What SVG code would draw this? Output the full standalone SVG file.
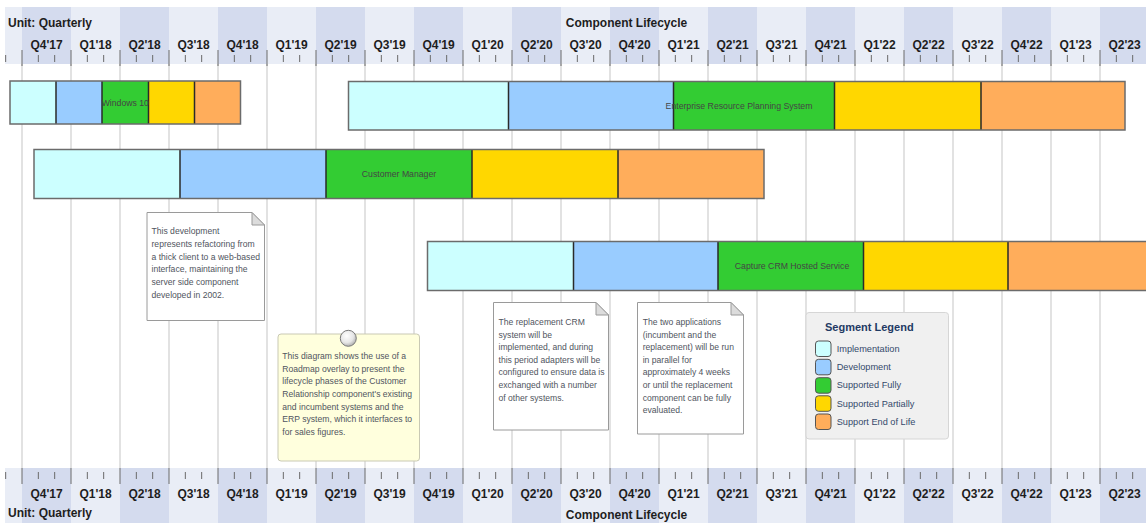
<svg xmlns="http://www.w3.org/2000/svg" xmlns:xlink="http://www.w3.org/1999/xlink" width="1146" height="523" viewBox="0 0 1146 523">
<style>
  .hdr { font-family: "Liberation Sans", Arial, sans-serif; font-weight: bold; font-size: 12px; fill: #1e1e1e; }
  .q { font-family: "Liberation Sans", Arial, sans-serif; font-weight: bold; font-size: 12px; fill: #1e1e1e; text-anchor: middle; }
  .lite { fill: #E9EDF6; }
  .dark { fill: #D4DBEE; }
  .grid { stroke: #D9D9D9; stroke-width: 1.5; fill: none; }
  .tick { stroke: #6a6a6a; stroke-width: 1; fill: none; }
  .seg { stroke: #2a2a2a; stroke-width: 1.5; }
  .outline { fill: none; stroke: #6b6b6b; stroke-width: 1.5; }
  .impl { fill: #CCFFFF; }
  .dev { fill: #99CCFF; }
  .full { fill: #33CC33; }
  .part { fill: #FFD700; }
  .eol { fill: #FFAD5B; }
  .blabel { font-family: "Liberation Sans", Arial, sans-serif; font-size: 8.7px; fill: #454545; text-anchor: middle; }
  .note { fill: #FFFFFF; stroke: #9a9a9a; stroke-width: 1; }
  .fold { fill: #DCDCDC; stroke: #9a9a9a; stroke-width: 1; }
  .ntext { font-family: "Liberation Sans", Arial, sans-serif; font-size: 8.6px; fill: #505560; }
  .lgtitle { font-family: "Liberation Sans", Arial, sans-serif; font-weight: bold; font-size: 11px; fill: #1F3A64; }
  .lgtext { font-family: "Liberation Sans", Arial, sans-serif; font-size: 9.2px; fill: #34496B; }
  .sw { stroke: #555; stroke-width: 1; }
</style>
<defs>
  <g id="band">
    <rect class="lite" x="5" y="0" width="1141" height="57"/>
    <rect class="dark" x="22" y="0" width="49" height="57"/>
    <rect class="dark" x="120" y="0" width="49" height="57"/>
    <rect class="dark" x="218" y="0" width="49" height="57"/>
    <rect class="dark" x="316" y="0" width="49" height="57"/>
    <rect class="dark" x="414" y="0" width="49" height="57"/>
    <rect class="dark" x="512" y="0" width="49" height="57"/>
    <rect class="dark" x="610" y="0" width="49" height="57"/>
    <rect class="dark" x="708" y="0" width="49" height="57"/>
    <rect class="dark" x="806" y="0" width="49" height="57"/>
    <rect class="dark" x="904" y="0" width="49" height="57"/>
    <rect class="dark" x="1002" y="0" width="49" height="57"/>
    <rect class="dark" x="1100" y="0" width="49" height="57"/>
  </g>
  <path id="minor" class="tick" d="M5.67 0v7M38.33 0v7M54.67 0v7M87.33 0v7M103.67 0v7M136.33 0v7M152.67 0v7M185.33 0v7M201.67 0v7M234.33 0v7M250.67 0v7M283.33 0v7M299.67 0v7M332.33 0v7M348.67 0v7M381.33 0v7M397.67 0v7M430.33 0v7M446.67 0v7M479.33 0v7M495.67 0v7M528.33 0v7M544.67 0v7M577.33 0v7M593.67 0v7M626.33 0v7M642.67 0v7M675.33 0v7M691.67 0v7M724.33 0v7M740.67 0v7M773.33 0v7M789.67 0v7M822.33 0v7M838.67 0v7M871.33 0v7M887.67 0v7M920.33 0v7M936.67 0v7M969.33 0v7M985.67 0v7M1018.33 0v7M1034.67 0v7M1067.33 0v7M1083.67 0v7M1116.33 0v7M1132.67 0v7"/>
  <path id="major" class="tick" d="M22 0v16M71 0v16M120 0v16M169 0v16M218 0v16M267 0v16M316 0v16M365 0v16M414 0v16M463 0v16M512 0v16M561 0v16M610 0v16M659 0v16M708 0v16M757 0v16M806 0v16M855 0v16M904 0v16M953 0v16M1002 0v16M1051 0v16M1100 0v16"/>
  <radialGradient id="knob" cx="0.4" cy="0.35" r="0.7">
    <stop offset="0" stop-color="#FFFFFF"/>
    <stop offset="0.6" stop-color="#E6E6E6"/>
    <stop offset="1" stop-color="#A8A8A8"/>
  </radialGradient>
</defs>

<rect x="0" y="0" width="1146" height="523" fill="#FFFFFF"/>

<!-- body grid -->
<g id="gridlines">
  <path class="grid" d="M22 64V468M71 64V468M120 64V468M169 64V468M218 64V468M267 64V468M316 64V468M365 64V468M414 64V468M463 64V468M512 64V468M561 64V468M610 64V468M659 64V468M708 64V468M757 64V468M806 64V468M855 64V468M904 64V468M953 64V468M1002 64V468M1051 64V468M1100 64V468"/>
</g>

<!-- top scale -->
<g id="top-scale">
  <use xlink:href="#band" transform="translate(0,7)"/>
  <use xlink:href="#minor" transform="translate(0,55)"/>
  <use xlink:href="#major" transform="translate(0,50)"/>
  <text class="hdr" x="8" y="27">Unit: Quarterly</text>
  <text class="hdr" x="626.5" y="27" text-anchor="middle">Component Lifecycle</text>
  <text class="q" x="46.5" y="49">Q4'17</text>
  <text class="q" x="95.5" y="49">Q1'18</text>
  <text class="q" x="144.5" y="49">Q2'18</text>
  <text class="q" x="193.5" y="49">Q3'18</text>
  <text class="q" x="242.5" y="49">Q4'18</text>
  <text class="q" x="291.5" y="49">Q1'19</text>
  <text class="q" x="340.5" y="49">Q2'19</text>
  <text class="q" x="389.5" y="49">Q3'19</text>
  <text class="q" x="438.5" y="49">Q4'19</text>
  <text class="q" x="487.5" y="49">Q1'20</text>
  <text class="q" x="536.5" y="49">Q2'20</text>
  <text class="q" x="585.5" y="49">Q3'20</text>
  <text class="q" x="634.5" y="49">Q4'20</text>
  <text class="q" x="683.5" y="49">Q1'21</text>
  <text class="q" x="732.5" y="49">Q2'21</text>
  <text class="q" x="781.5" y="49">Q3'21</text>
  <text class="q" x="830.5" y="49">Q4'21</text>
  <text class="q" x="879.5" y="49">Q1'22</text>
  <text class="q" x="928.5" y="49">Q2'22</text>
  <text class="q" x="977.5" y="49">Q3'22</text>
  <text class="q" x="1026.5" y="49">Q4'22</text>
  <text class="q" x="1075.5" y="49">Q1'23</text>
  <text class="q" x="1124.5" y="49">Q2'23</text>
</g>

<!-- bottom scale -->
<g id="bottom-scale">
  <use xlink:href="#band" transform="translate(0,468)"/>
  <use xlink:href="#minor" transform="translate(0,472)"/>
  <use xlink:href="#major" transform="translate(0,468)"/>
  <text class="hdr" x="8" y="517">Unit: Quarterly</text>
  <text class="hdr" x="626.5" y="519" text-anchor="middle">Component Lifecycle</text>
  <text class="q" x="46.5" y="498">Q4'17</text>
  <text class="q" x="95.5" y="498">Q1'18</text>
  <text class="q" x="144.5" y="498">Q2'18</text>
  <text class="q" x="193.5" y="498">Q3'18</text>
  <text class="q" x="242.5" y="498">Q4'18</text>
  <text class="q" x="291.5" y="498">Q1'19</text>
  <text class="q" x="340.5" y="498">Q2'19</text>
  <text class="q" x="389.5" y="498">Q3'19</text>
  <text class="q" x="438.5" y="498">Q4'19</text>
  <text class="q" x="487.5" y="498">Q1'20</text>
  <text class="q" x="536.5" y="498">Q2'20</text>
  <text class="q" x="585.5" y="498">Q3'20</text>
  <text class="q" x="634.5" y="498">Q4'20</text>
  <text class="q" x="683.5" y="498">Q1'21</text>
  <text class="q" x="732.5" y="498">Q2'21</text>
  <text class="q" x="781.5" y="498">Q3'21</text>
  <text class="q" x="830.5" y="498">Q4'21</text>
  <text class="q" x="879.5" y="498">Q1'22</text>
  <text class="q" x="928.5" y="498">Q2'22</text>
  <text class="q" x="977.5" y="498">Q3'22</text>
  <text class="q" x="1026.5" y="498">Q4'22</text>
  <text class="q" x="1075.5" y="498">Q1'23</text>
  <text class="q" x="1124.5" y="498">Q2'23</text>
</g>

<!-- Windows 10 -->
<g id="windows10">
  <rect class="impl" x="10" y="81" width="46" height="43"/>
  <rect class="dev" x="56" y="81" width="46" height="43"/>
  <rect class="full" x="102" y="81" width="46.5" height="43"/>
  <rect class="part" x="148.5" y="81" width="46" height="43"/>
  <rect class="eol" x="194.5" y="81" width="46" height="43"/>
  <path class="seg" d="M56 81V124M102 81V124M148.5 81V124M194.5 81V124"/>
  <rect class="outline" x="10" y="81" width="230.5" height="43"/>
  <text class="blabel" x="125.3" y="105.5">Windows 10</text>
</g>

<!-- ERP -->
<g id="erp">
  <rect class="impl" x="348.5" y="81.5" width="160" height="48.5"/>
  <rect class="dev" x="508.5" y="81.5" width="165" height="48.5"/>
  <rect class="full" x="673.5" y="81.5" width="161" height="48.5"/>
  <rect class="part" x="834.5" y="81.5" width="146.5" height="48.5"/>
  <rect class="eol" x="981" y="81.5" width="144" height="48.5"/>
  <path class="seg" d="M508.5 81.5V130M673.5 81.5V130M834.5 81.5V130M981 81.5V130"/>
  <rect class="outline" x="348.5" y="81.5" width="776.5" height="48.5"/>
  <text class="blabel" x="739" y="108.8">Enterprise Resource Planning System</text>
</g>

<!-- Customer Manager -->
<g id="customer-manager">
  <rect class="impl" x="34" y="149.5" width="146" height="49"/>
  <rect class="dev" x="180" y="149.5" width="146" height="49"/>
  <rect class="full" x="326" y="149.5" width="146" height="49"/>
  <rect class="part" x="472" y="149.5" width="146" height="49"/>
  <rect class="eol" x="618" y="149.5" width="146" height="49"/>
  <path class="seg" d="M180 149.5V198.5M326 149.5V198.5M472 149.5V198.5M618 149.5V198.5"/>
  <rect class="outline" x="34" y="149.5" width="730" height="49"/>
  <text class="blabel" x="399" y="177">Customer Manager</text>
</g>

<!-- Capture CRM Hosted Service -->
<g id="capture-crm">
  <rect class="impl" x="427.5" y="241.5" width="146" height="49"/>
  <rect class="dev" x="573.5" y="241.5" width="144.5" height="49"/>
  <rect class="full" x="718" y="241.5" width="145.5" height="49"/>
  <rect class="part" x="863.5" y="241.5" width="144.5" height="49"/>
  <rect class="eol" x="1008" y="241.5" width="145" height="49"/>
  <path class="seg" d="M573.5 241.5V290.5M718 241.5V290.5M863.5 241.5V290.5M1008 241.5V290.5"/>
  <rect class="outline" x="427.5" y="241.5" width="725.5" height="49"/>
  <text class="blabel" x="792" y="269">Capture CRM Hosted Service</text>
</g>

<!-- Note 1 -->
<g id="note-refactoring">
  <path class="note" d="M147 212.5H252L264.5 225V320.5H147Z"/>
  <path class="fold" d="M252 212.5V225H264.5Z"/>
  <text class="ntext">
    <tspan x="151.5" y="234.3">This development</tspan>
    <tspan x="151.5" y="247">represents refactoring from</tspan>
    <tspan x="151.5" y="259.7">a thick client to a web-based</tspan>
    <tspan x="151.5" y="272.4">interface, maintaining the</tspan>
    <tspan x="151.5" y="285.1">server side component</tspan>
    <tspan x="151.5" y="297.8">developed in 2002.</tspan>
  </text>
</g>

<!-- Yellow note -->
<g id="note-diagram">
  <rect x="278" y="334" width="141.5" height="127" rx="3" fill="#FFFFDD" stroke="#C9C9B4" stroke-width="1"/>
  <circle cx="348.3" cy="338.3" r="8" fill="url(#knob)" stroke="#7a7a7a" stroke-width="1"/>
  <text class="ntext">
    <tspan x="282.3" y="359.2">This diagram shows the use of a</tspan>
    <tspan x="282.3" y="371.8">Roadmap overlay to present the</tspan>
    <tspan x="282.3" y="384.4">lifecycle phases of the Customer</tspan>
    <tspan x="282.3" y="397">Relationship component's existing</tspan>
    <tspan x="282.3" y="409.6">and incumbent systems and the</tspan>
    <tspan x="282.3" y="422.2">ERP system, which it interfaces to</tspan>
    <tspan x="282.3" y="434.8">for sales figures.</tspan>
  </text>
</g>

<!-- Note 3 -->
<g id="note-replacement">
  <path class="note" d="M493.5 302.5H596L608.5 315V430H493.5Z"/>
  <path class="fold" d="M596 302.5V315H608.5Z"/>
  <text class="ntext">
    <tspan x="498.5" y="324.9">The replacement CRM</tspan>
    <tspan x="498.5" y="337.5">system will be</tspan>
    <tspan x="498.5" y="350.1">implemented, and during</tspan>
    <tspan x="498.5" y="362.7">this period adapters will be</tspan>
    <tspan x="498.5" y="375.3">configured to ensure data is</tspan>
    <tspan x="498.5" y="387.9">exchanged with a number</tspan>
    <tspan x="498.5" y="400.5">of other systems.</tspan>
  </text>
</g>

<!-- Note 4 -->
<g id="note-parallel">
  <path class="note" d="M637.5 302.5H731L743.5 315V434H637.5Z"/>
  <path class="fold" d="M731 302.5V315H743.5Z"/>
  <text class="ntext">
    <tspan x="642.7" y="324.9">The two applications</tspan>
    <tspan x="642.7" y="337.5">(incumbent and the</tspan>
    <tspan x="642.7" y="350.1">replacement) will be run</tspan>
    <tspan x="642.7" y="362.7">in parallel for</tspan>
    <tspan x="642.7" y="375.3">approximately 4 weeks</tspan>
    <tspan x="642.7" y="387.9">or until the replacement</tspan>
    <tspan x="642.7" y="400.5">component can be fully</tspan>
    <tspan x="642.7" y="413.1">evaluated.</tspan>
  </text>
</g>

<!-- Legend -->
<g id="legend">
  <rect x="806" y="312.5" width="142.5" height="126.5" rx="3" fill="#F0F0F0" stroke="#D6D6D6" stroke-width="1"/>
  <text class="lgtitle" x="825" y="330.8">Segment Legend</text>
  <rect class="sw impl" x="815.5" y="341" width="15.5" height="15.5" rx="3"/>
  <rect class="sw dev" x="815.5" y="359.3" width="15.5" height="15.5" rx="3"/>
  <rect class="sw full" x="815.5" y="377.7" width="15.5" height="15.5" rx="3"/>
  <rect class="sw part" x="815.5" y="395.8" width="15.5" height="15.5" rx="3"/>
  <rect class="sw eol" x="815.5" y="414" width="15.5" height="15.5" rx="3"/>
  <text class="lgtext" x="836.7" y="351.7">Implementation</text>
  <text class="lgtext" x="836.7" y="370">Development</text>
  <text class="lgtext" x="836.7" y="388.4">Supported Fully</text>
  <text class="lgtext" x="836.7" y="406.7">Supported Partially</text>
  <text class="lgtext" x="836.7" y="425">Support End of Life</text>
</g>
</svg>
